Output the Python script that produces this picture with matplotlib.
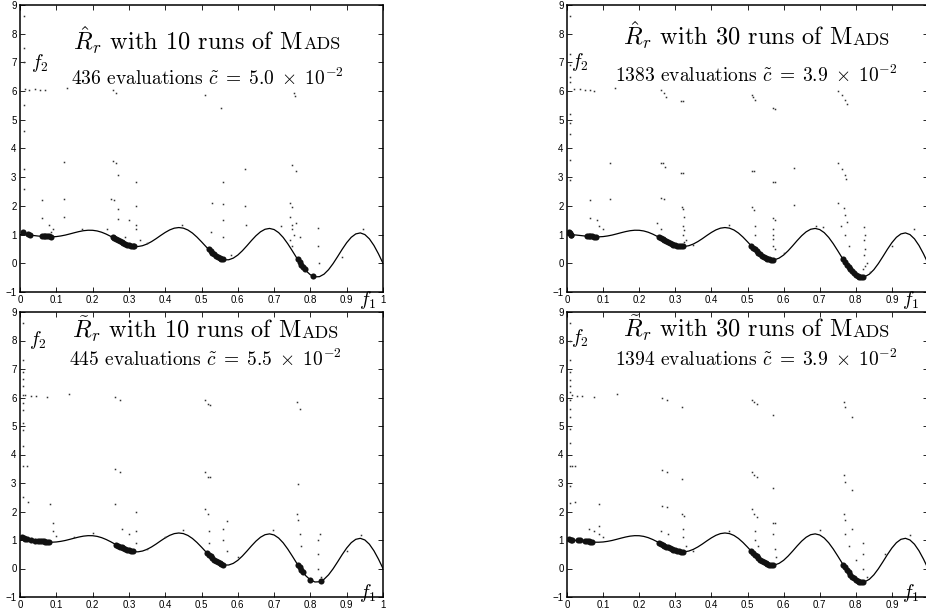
import matplotlib
matplotlib.use("Agg")
import matplotlib.pyplot as plt

plt.rcParams['mathtext.fontset'] = 'cm'
plt.rcParams['font.family'] = ['Liberation Sans', 'DejaVu Sans']
plt.rcParams['axes.unicode_minus'] = True

# ---------------- data ----------------
curve_f1 = [0.0, 0.0125, 0.025, 0.0375, 0.05, 0.0625, 0.075, 0.0875, 0.1, 0.1125,
            0.125, 0.1375, 0.15, 0.1625, 0.175, 0.1875, 0.2, 0.2125, 0.225, 0.2375,
            0.25, 0.2625, 0.275, 0.2875, 0.3, 0.3125, 0.325, 0.3375, 0.35, 0.3625,
            0.375, 0.3875, 0.4, 0.4125, 0.425, 0.4375, 0.45, 0.4625, 0.475, 0.4875,
            0.5, 0.5125, 0.525, 0.5375, 0.55, 0.5625, 0.575, 0.5875, 0.6, 0.6125,
            0.625, 0.6375, 0.65, 0.6625, 0.675, 0.6875, 0.7, 0.7125, 0.725, 0.7375,
            0.75, 0.7625, 0.775, 0.7875, 0.8, 0.8125, 0.825, 0.8375, 0.85, 0.8625,
            0.875, 0.8875, 0.9, 0.9125, 0.925, 0.9375, 0.95, 0.9625, 0.975, 0.9875, 1.0]
curve_f2 = [1.0, 0.996, 0.985, 0.968, 0.950, 0.934, 0.923, 0.922, 0.931, 0.953,
            0.984, 1.024, 1.066, 1.105, 1.136, 1.152, 1.150, 1.127, 1.082, 1.017,
            0.938, 0.850, 0.763, 0.685, 0.625, 0.590, 0.585, 0.613, 0.672, 0.757,
            0.859, 0.970, 1.075, 1.164, 1.224, 1.246, 1.225, 1.160, 1.054, 0.913,
            0.750, 0.579, 0.416, 0.276, 0.174, 0.121, 0.123, 0.180, 0.287, 0.436,
            0.609, 0.791, 0.960, 1.097, 1.186, 1.215, 1.176, 1.069, 0.901, 0.684,
            0.438, 0.183, -0.056, -0.257, -0.401, -0.473, -0.465, -0.379, -0.222, -0.010,
            0.234, 0.487, 0.719, 0.906, 1.024, 1.059, 1.001, 0.852, 0.622, 0.330, 0.0]

# top-left panel
tl_front_f1 = [0.008, 0.022, 0.028, 0.06, 0.065, 0.07, 0.075, 0.08, 0.085,
               0.255, 0.26, 0.265, 0.27, 0.275, 0.28, 0.285, 0.29, 0.295, 0.30, 0.305, 0.31, 0.315,
               0.52, 0.525, 0.53, 0.535, 0.54, 0.545, 0.55, 0.555, 0.56,
               0.765, 0.77, 0.775, 0.78, 0.785, 0.808]
tl_front_f2 = [1.09, 1.01, 1.0, 0.95, 0.95, 0.945, 0.94, 0.935, 0.93,
               0.91, 0.875, 0.84, 0.805, 0.77, 0.74, 0.705, 0.68, 0.655, 0.635, 0.615, 0.60, 0.595,
               0.49, 0.425, 0.365, 0.31, 0.26, 0.22, 0.185, 0.155, 0.14,
               0.14, 0.045, -0.05, -0.135, -0.215, -0.44]
tl_other_f1 = [0.01, 0.01, 0.01, 0.01, 0.01, 0.01, 0.01,
               0.015, 0.025, 0.04, 0.055, 0.07, 0.13, 0.255, 0.265, 0.51, 0.555, 0.755, 0.758,
               0.12, 0.255, 0.265, 0.27, 0.32, 0.62, 0.558, 0.75, 0.76,
               0.06, 0.12, 0.25, 0.26, 0.27, 0.32, 0.53, 0.558, 0.62, 0.745, 0.75,
               0.06, 0.08, 0.12, 0.085, 0.09, 0.17, 0.27, 0.30, 0.32, 0.32, 0.33, 0.35,
               0.445, 0.526, 0.56, 0.56, 0.58, 0.622, 0.72, 0.745, 0.748, 0.75, 0.755,
               0.745, 0.76, 0.77, 0.822, 0.822, 0.825, 0.886, 0.945, 0.24, 0.29, 0.748]
tl_other_f2 = [8.6, 7.5, 7.0, 5.5, 4.6, 3.3, 2.6,
               6.08, 6.05, 6.06, 6.04, 6.03, 6.1, 6.05, 5.95, 5.88, 5.42, 5.95, 5.82,
               3.52, 3.55, 3.5, 3.07, 2.85, 3.3, 2.85, 3.42, 3.2,
               2.2, 2.25, 2.25, 2.2, 1.9, 1.98, 2.1, 2.05, 2.0, 2.1, 1.95,
               1.58, 1.35, 1.62, 1.1, 1.2, 1.2, 1.55, 1.5, 1.35, 1.2, 0.8, 0.7,
               1.33, 1.1, 1.5, 0.9, 0.3, 1.33, 1.3, 1.6, 1.35, 1.2, 1.0,
               0.8, 1.4, 0.9, 1.24, 0.6, 0.0, 0.23, 1.2, 1.2, 0.9, 0.6]

# top-right panel
tr_front_f1 = [0.006, 0.008, 0.01, 0.012, 0.055, 0.06, 0.065, 0.07, 0.075, 0.08,
               0.255, 0.26, 0.265, 0.27, 0.275, 0.28, 0.285, 0.29, 0.295, 0.30, 0.305, 0.31, 0.315, 0.32,
               0.51, 0.515, 0.52, 0.525, 0.53, 0.535, 0.54, 0.545, 0.55, 0.555, 0.56, 0.565, 0.57,
               0.765, 0.77, 0.775, 0.78, 0.785, 0.79, 0.795, 0.80, 0.805, 0.81, 0.815, 0.82]
tr_front_f2 = [1.1, 1.05, 1.0, 0.98, 0.95, 0.95, 0.94, 0.935, 0.93, 0.93,
               0.91, 0.875, 0.84, 0.805, 0.77, 0.74, 0.705, 0.68, 0.655, 0.635, 0.615, 0.60, 0.595, 0.59,
               0.62, 0.55, 0.49, 0.425, 0.365, 0.31, 0.26, 0.22, 0.185, 0.155, 0.14, 0.13, 0.125,
               0.14, 0.045, -0.05, -0.135, -0.215, -0.285, -0.345, -0.395, -0.435, -0.46, -0.475, -0.475]
tr_other_f1 = [0.007, 0.007, 0.007, 0.007, 0.007, 0.007, 0.007, 0.007, 0.007, 0.007,
               0.02, 0.035, 0.05, 0.065, 0.075, 0.134,
               0.26, 0.268, 0.275, 0.316, 0.322, 0.512, 0.515, 0.52, 0.57, 0.575,
               0.752, 0.762, 0.771, 0.776,
               0.12, 0.26, 0.265, 0.272, 0.316, 0.322, 0.512, 0.517, 0.57, 0.575, 0.628,
               0.752, 0.761, 0.771, 0.774,
               0.063, 0.12, 0.26, 0.268, 0.318, 0.322, 0.512, 0.518, 0.57, 0.577, 0.628,
               0.752, 0.766, 0.771, 0.776,
               0.063, 0.083, 0.09, 0.10, 0.822, 0.822, 0.822, 0.82, 0.90, 0.96, 0.45,
               0.25, 0.26, 0.32, 0.32, 0.33, 0.52, 0.52, 0.57, 0.57, 0.575, 0.76, 0.77,
               0.78, 0.69, 0.71, 0.35, 0.60, 0.83, 0.84, 0.323, 0.323, 0.323, 0.572,
               0.572, 0.826, 0.826, 0.826]
tr_other_f2 = [8.6, 7.3, 6.9, 6.5, 6.3, 5.2, 4.9, 4.5, 3.6, 2.9,
               6.08, 6.06, 6.04, 6.03, 6.0, 6.1,
               6.04, 5.92, 5.8, 5.66, 5.65, 5.86, 5.78, 5.7, 5.4, 5.38,
               6.0, 5.88, 5.7, 5.55,
               3.48, 3.5, 3.48, 3.37, 3.15, 3.13, 3.23, 3.2, 2.85, 2.85, 3.31,
               3.48, 3.3, 3.08, 2.93,
               2.2, 2.24, 2.26, 2.23, 1.97, 1.88, 1.95, 1.86, 1.57, 1.5, 2.03,
               2.1, 1.92, 1.68, 1.45,
               1.57, 1.5, 1.3, 1.2, 1.28, 0.8, 0.3, -0.2, 0.6, 1.2, 1.33,
               1.4, 1.2, 1.3, 1.0, 0.8, 1.0, 1.3, 1.0, 0.85, 0.5, 1.3, 1.0,
               0.6, 1.3, 1.25, 0.65, 0.35, 0.0, -0.3, 1.6, 1.15, 0.75, 1.2,
               0.6, 1.0, 0.5, -0.1]

# bottom-left panel
bl_front_f1 = [0.006, 0.01, 0.015, 0.02, 0.03, 0.04, 0.05, 0.055, 0.06, 0.065, 0.07, 0.075, 0.08,
               0.265, 0.27, 0.275, 0.28, 0.285, 0.29, 0.295, 0.30, 0.305, 0.31,
               0.515, 0.52, 0.525, 0.53, 0.535, 0.54, 0.545, 0.55, 0.555, 0.56,
               0.765, 0.77, 0.775, 0.78, 0.80, 0.83]
bl_front_f2 = [1.1, 1.08, 1.05, 1.02, 0.99, 0.98, 0.965, 0.96, 0.95, 0.95, 0.945, 0.94, 0.94,
               0.84, 0.805, 0.77, 0.74, 0.705, 0.68, 0.655, 0.635, 0.615, 0.60,
               0.55, 0.49, 0.425, 0.365, 0.31, 0.26, 0.22, 0.185, 0.155, 0.14,
               0.14, 0.045, -0.05, -0.135, -0.40, -0.445]
bl_other_f1 = [0.007, 0.007, 0.007, 0.007, 0.007, 0.007, 0.007, 0.007, 0.007, 0.007, 0.007, 0.007, 0.007,
               0.015, 0.03, 0.045, 0.075, 0.135,
               0.262, 0.275, 0.51, 0.519, 0.524, 0.762, 0.771,
               0.018, 0.262, 0.275, 0.51, 0.519, 0.524, 0.767,
               0.023, 0.083, 0.262, 0.32, 0.51, 0.519, 0.762, 0.767, 0.57,
               0.826, 0.94, 0.45, 0.698, 0.09, 0.09, 0.10, 0.15, 0.20, 0.30, 0.32, 0.32,
               0.28, 0.52, 0.52, 0.56, 0.56, 0.57, 0.60, 0.77, 0.775, 0.82, 0.82, 0.82,
               0.83, 0.90, 0.35, 0.40]
bl_other_f2 = [8.6, 7.3, 6.9, 6.65, 6.4, 6.1, 5.8, 5.55, 5.1, 4.85, 4.3, 3.6, 2.5,
               6.08, 6.07, 6.06, 6.03, 6.12,
               6.02, 5.92, 5.92, 5.78, 5.74, 5.84, 5.6,
               3.58, 3.5, 3.39, 3.39, 3.2, 3.22, 2.98,
               2.33, 2.27, 2.27, 1.98, 2.1, 1.92, 1.92, 1.69, 1.65,
               1.22, 1.16, 1.34, 1.34, 1.6, 1.3, 1.15, 1.1, 1.25, 1.2, 1.3, 0.9,
               1.4, 1.3, 0.9, 1.4, 1.0, 0.6, 0.4, 1.2, 0.8, 1.0, 0.5, 0.0,
               -0.3, 0.6, 0.7, 1.1]

# bottom-right panel
br_front_f1 = [0.005, 0.01, 0.013, 0.03, 0.035, 0.05, 0.055, 0.06, 0.065, 0.07,
               0.255, 0.26, 0.265, 0.27, 0.275, 0.28, 0.285, 0.29, 0.295, 0.30, 0.305, 0.31, 0.315, 0.32,
               0.51, 0.515, 0.52, 0.525, 0.53, 0.535, 0.54, 0.545, 0.55, 0.555, 0.56, 0.565, 0.57,
               0.765, 0.77, 0.775, 0.78, 0.785, 0.79, 0.795, 0.80, 0.805, 0.81, 0.815, 0.82]
br_front_f2 = [1.03, 1.01, 1.0, 0.99, 0.99, 0.97, 0.96, 0.95, 0.94, 0.935,
               0.91, 0.875, 0.84, 0.805, 0.77, 0.74, 0.705, 0.68, 0.655, 0.635, 0.615, 0.60, 0.595, 0.59,
               0.62, 0.55, 0.49, 0.425, 0.365, 0.31, 0.26, 0.22, 0.185, 0.155, 0.14, 0.13, 0.125,
               0.14, 0.045, -0.05, -0.135, -0.215, -0.285, -0.345, -0.395, -0.435, -0.46, -0.475, -0.475]
br_other_f1 = [0.007, 0.007, 0.007, 0.007, 0.007, 0.007, 0.007, 0.007, 0.007, 0.007, 0.007, 0.007,
               0.007, 0.007, 0.007,
               0.014, 0.028, 0.042, 0.074, 0.139,
               0.263, 0.277, 0.319, 0.512, 0.517, 0.526, 0.572, 0.766, 0.771, 0.79,
               0.014, 0.023, 0.263, 0.277, 0.319, 0.512, 0.517, 0.526, 0.572, 0.766, 0.771, 0.79,
               0.023, 0.088, 0.263, 0.277, 0.319, 0.325, 0.512, 0.517, 0.526, 0.572, 0.577,
               0.766, 0.771, 0.79,
               0.06, 0.075, 0.09, 0.09, 0.10, 0.951, 0.70, 0.45, 0.26, 0.28, 0.32, 0.32,
               0.33, 0.35, 0.52, 0.52, 0.53, 0.57, 0.575, 0.58, 0.77, 0.78, 0.80, 0.82,
               0.82, 0.82, 0.83, 0.88]
br_other_f2 = [8.6, 8.0, 7.3, 6.9, 6.6, 6.4, 6.2, 5.9, 5.6, 5.3, 4.9, 4.4,
               3.6, 2.9, 2.3,
               6.08, 6.07, 6.06, 6.03, 6.13,
               5.99, 5.92, 5.67, 5.92, 5.84, 5.76, 5.37, 5.84, 5.67, 5.3,
               3.6, 3.58, 3.44, 3.39, 3.15, 3.39, 3.27, 3.2, 2.84, 3.27, 3.03, 2.74,
               2.33, 2.27, 2.2, 2.16, 1.92, 1.85, 2.1, 1.92, 1.81, 1.6, 1.58,
               1.92, 1.69, 1.4,
               1.4, 1.3, 1.5, 1.2, 1.1, 1.16, 1.34, 1.33, 1.3, 1.2, 1.4, 1.1,
               0.8, 0.62, 1.3, 1.0, 0.8, 1.2, 0.7, 0.4, 1.2, 0.8, 0.3, 0.9,
               0.5, 0.0, -0.3, 0.5]

panel_hats = [r"\hat{R}_r", r"\hat{R}_r", r"\tilde{R}_r", r"\tilde{R}_r"]
panel_runs = ["10", "30", "10", "30"]
panel_evals = ["436", "1383", "445", "1394"]
panel_c = ["5.0", "3.9", "5.5", "3.9"]
x_ticks = [0, 0.1, 0.2, 0.3, 0.4, 0.5, 0.6, 0.7, 0.8, 0.9, 1]
x_ticklabels = ["0", "0.1", "0.2", "0.3", "0.4", "0.5", "0.6", "0.7", "0.8", "0.9", "1"]
y_ticks = [-1, 0, 1, 2, 3, 4, 5, 6, 7, 8, 9]

# ---------------- layout ----------------
W, H = 926, 613
fig = plt.figure(figsize=(W / 100, H / 100), dpi=100)

def px_axes(left, top, right, bottom):
    return fig.add_axes([left / W, 1 - bottom / H, (right - left) / W, (bottom - top) / H])

axes = [px_axes(20, 5, 383, 292), px_axes(567, 5, 928, 292),
        px_axes(20, 312, 383, 597), px_axes(567, 312, 928, 597)]

fronts = [(tl_front_f1, tl_front_f2), (tr_front_f1, tr_front_f2),
          (bl_front_f1, bl_front_f2), (br_front_f1, br_front_f2)]
others = [(tl_other_f1, tl_other_f2), (tr_other_f1, tr_other_f2),
          (bl_other_f1, bl_other_f2), (br_other_f1, br_other_f2)]

title_y = [0.845, 0.862, 0.91, 0.912]
sub_y = [0.722, 0.73, 0.81, 0.812]
center_x = [0.515, 0.525, 0.51, 0.525]
f2_pos = [(0.03, 0.78), (0.012, 0.785), (0.025, 0.885), (0.012, 0.89)]
f1_pos = [(0.935, -0.045), (0.928, -0.045), (0.935, -0.005), (0.928, -0.005)]

SERIF = 'cmr10'
TITLE_FS = 17.5
SUB_FS = 14

fig.canvas.draw()
renderer = fig.canvas.get_renderer()

for i, ax in enumerate(axes):
    ax.plot(curve_f1, curve_f2, color='black', lw=0.9, zorder=2)
    of1, of2 = others[i]
    ax.plot(of1, of2, ls='none', marker='s', ms=1.1, mew=0, color='#333333', zorder=3)
    ff1, ff2 = fronts[i]
    ax.plot(ff1, ff2, ls='none', marker='o', ms=4.4, mew=0, color='#111111', zorder=4)

    ax.set_xlim(0, 1)
    ax.set_ylim(-1, 9)
    ax.set_xticks(x_ticks)
    labels = list(x_ticklabels)
    if i in (1, 3):
        labels[-1] = ""
    ax.set_xticklabels(labels)
    ax.set_yticks(y_ticks)
    ax.tick_params(direction='in', length=3.5, width=0.6, top=True, right=True,
                   labelsize=7, pad=2.5)
    for s in ax.spines.values():
        s.set_linewidth(1.1)

    # title line: "R with N runs of M" + small caps "ADS"
    t1 = ax.text(0, title_y[i], r"$%s$ with %s runs of M" % (panel_hats[i], panel_runs[i]),
                 transform=ax.transAxes, fontsize=TITLE_FS, family=SERIF,
                 ha='left', va='baseline', zorder=6)
    t2 = ax.text(0, title_y[i], "ADS", transform=ax.transAxes, family=SERIF,
                 fontsize=TITLE_FS * 0.74, ha='left', va='baseline', zorder=6)
    fig.canvas.draw()
    b1 = t1.get_window_extent(renderer)
    b2 = t2.get_window_extent(renderer)
    axb = ax.get_window_extent(renderer)
    total = b1.width + b2.width
    cx = axb.x0 + center_x[i] * axb.width
    x1 = cx - total / 2
    t1.set_x((x1 - axb.x0) / axb.width)
    t2.set_x((x1 + b1.width - axb.x0) / axb.width)

    ax.text(center_x[i], sub_y[i],
            r"%s evaluations $\tilde{c}\;=\;%s\;\times\;10^{-2}$" % (panel_evals[i], panel_c[i]),
            transform=ax.transAxes, fontsize=SUB_FS, family=SERIF, ha='center', va='baseline')

    ax.text(f2_pos[i][0], f2_pos[i][1], r"$f_2$", transform=ax.transAxes,
            fontsize=14, ha='left', va='baseline')
    ax.text(f1_pos[i][0], f1_pos[i][1], r"$f_1$", transform=ax.transAxes,
            fontsize=14, ha='left', va='baseline', clip_on=False)

fig.savefig("out.png", dpi=100)
